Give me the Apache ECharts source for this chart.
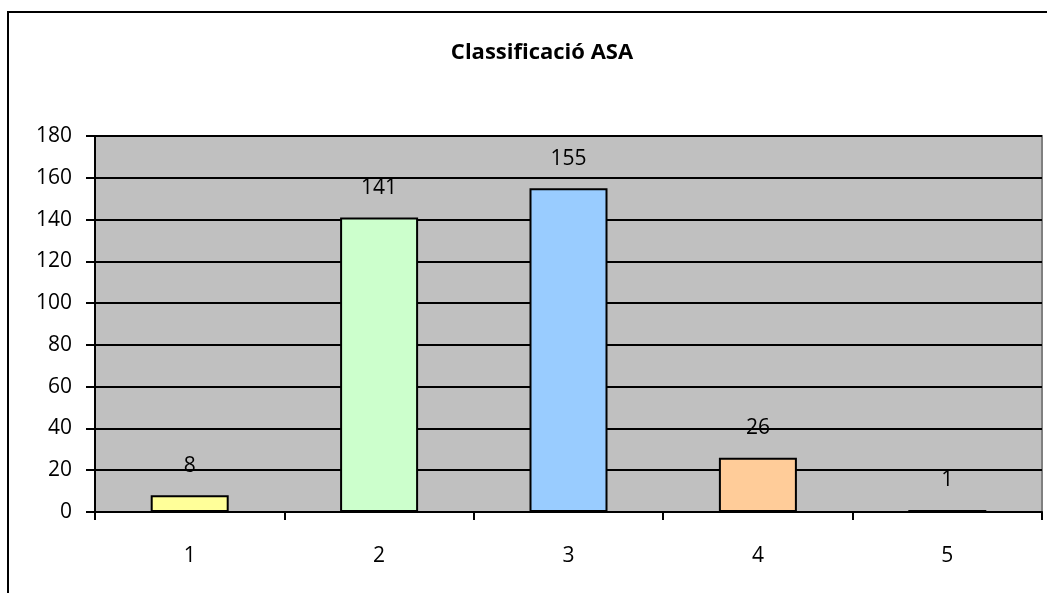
<!DOCTYPE html>
<html>
<head>
<meta charset="utf-8">
<script src="https://cdn.jsdelivr.net/npm/echarts@6/dist/echarts.min.js"></script>
<style>
  html, body { margin: 0; padding: 0; background: #ffffff; }
  #chart { width: 1047px; height: 593px; }
</style>
</head>
<body>
<div id="chart"></div>
<script>
// ASA physical status classification counts
const categories = ['1', '2', '3', '4', '5'];
const counts = [8, 141, 155, 26, 1];
const barColors = ['#FFFF99', '#CCFFCC', '#99CCFF', '#FFCC99', '#CC99FF'];
const yTicks = { min: 0, max: 180, step: 20 };

const FONT = '"Open Sans", Lato, sans-serif';

const chart = echarts.init(document.getElementById('chart'), null, { renderer: 'canvas' });

chart.setOption({
  backgroundColor: '#ffffff',
  animation: false,
  title: {
    text: 'Classificació ASA',
    left: 537,
    top: 37,
    textAlign: 'center',
    textStyle: { fontFamily: FONT, fontWeight: 'bold', fontSize: 22, color: '#000000' }
  },
  graphic: [{
    type: 'rect',
    shape: { x: 8, y: 12, width: 1200, height: 800 },
    style: { fill: 'none', stroke: '#000000', lineWidth: 2 },
    silent: true,
    z: 100
  }],
  grid: {
    left: 95, top: 136, width: 947, height: 376,
    show: true,
    backgroundColor: '#C0C0C0',
    borderColor: '#808080',
    borderWidth: 2
  },
  xAxis: {
    type: 'category',
    data: categories,
    boundaryGap: true,
    axisLine: { show: true, lineStyle: { color: '#000000', width: 2 } },
    axisTick: { show: true, length: 8, alignWithLabel: false, lineStyle: { color: '#000000', width: 2 } },
    axisLabel: { fontFamily: FONT, fontSize: 21, color: '#000000', margin: 34 },
    splitLine: { show: false }
  },
  yAxis: {
    type: 'value',
    min: yTicks.min,
    max: yTicks.max,
    interval: yTicks.step,
    axisLine: { show: true, lineStyle: { color: '#000000', width: 2 } },
    axisTick: { show: true, length: 9, inside: false, lineStyle: { color: '#000000', width: 2 } },
    axisLabel: { fontFamily: FONT, fontSize: 21, color: '#000000', margin: 23 },
    splitLine: { show: true, lineStyle: { color: '#000000', width: 2 } }
  },
  series: [{
    type: 'bar',
    barWidth: 78,
    data: counts.map((v, i) => ({ value: v, itemStyle: { color: barColors[i] } })),
    itemStyle: { borderColor: '#000000', borderWidth: 2 },
    label: {
      show: true,
      position: 'top',
      distance: 19,
      fontFamily: FONT,
      fontSize: 21,
      color: '#000000'
    },
    z: 3
  }]
});
</script>
</body>
</html>
